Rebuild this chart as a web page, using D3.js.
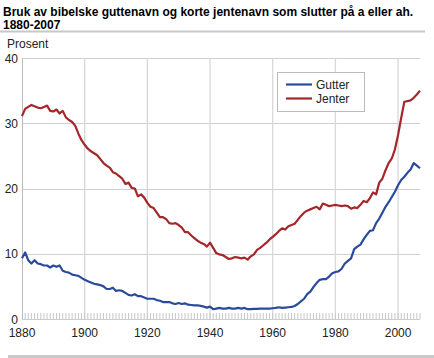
<!DOCTYPE html>
<html><head><meta charset="utf-8">
<script src="https://cdn.jsdelivr.net/npm/d3@7"></script>
<style>
body{margin:0;background:#fff;}
svg{display:block;font-family:"Liberation Sans",Arial,sans-serif;}
</style></head>
<body>
<script>
const startYear = 1880;
const endYear = 2007;
const jenter = [31.1,32.2,32.5,32.8,32.6,32.4,32.3,32.5,32.7,31.9,
31.8,32.1,31.5,31.9,30.9,30.5,30.2,29.6,28.4,27.4,
26.7,26.1,25.7,25.4,25.1,24.5,23.9,23.5,23.2,22.5,
22.3,21.9,21.5,20.7,20.9,20.1,20.0,18.8,19.1,18.6,
17.8,17.2,17.0,16.3,15.6,15.6,15.3,14.7,14.6,14.7,
14.4,14.0,13.3,13.3,12.8,12.4,12.0,11.7,11.5,11.1,
11.7,10.9,10.1,9.9,9.8,9.5,9.2,9.3,9.5,9.4,
9.3,9.4,9.1,9.6,9.9,10.6,10.9,11.3,11.7,12.2,
12.6,13.0,13.5,13.9,13.7,14.2,14.4,14.6,15.2,15.8,
16.3,16.6,16.8,17.0,17.2,16.8,17.7,17.5,17.3,17.4,
17.5,17.4,17.3,17.4,17.3,16.9,17.1,17.0,17.5,18.1,
17.9,18.5,19.4,19.1,20.9,21.5,22.8,23.9,24.6,26.0,
28.2,30.8,33.3,33.4,33.5,33.9,34.4,35.0];
const gutter = [9.3,10.2,9.0,8.5,9.0,8.5,8.4,8.2,8.2,7.9,
8.2,8.0,8.2,7.4,7.2,7.1,6.8,6.7,6.6,6.3,
6.0,5.8,5.6,5.4,5.3,5.2,5.0,4.6,4.6,4.8,
4.3,4.4,4.3,4.0,3.7,3.6,3.8,3.5,3.5,3.3,
3.1,3.1,3.1,2.9,2.8,2.6,2.6,2.6,2.4,2.3,
2.45,2.3,2.4,2.2,2.15,2.1,2.1,2.0,1.9,1.75,
1.9,1.5,1.6,1.7,1.6,1.6,1.7,1.6,1.6,1.7,
1.6,1.7,1.5,1.5,1.55,1.55,1.6,1.6,1.6,1.6,
1.65,1.7,1.8,1.7,1.75,1.8,1.85,2.0,2.3,2.7,
3.1,3.8,4.2,4.9,5.5,6.0,6.1,6.1,6.5,7.0,
7.2,7.3,7.7,8.5,8.9,9.3,10.7,11.1,11.4,12.2,
12.9,13.5,13.6,14.7,15.4,16.3,17.2,17.9,18.7,19.5,
20.5,21.3,21.8,22.4,22.9,23.9,23.5,23.1];
const xTicks = [1880,1900,1920,1940,1960,1980,2000];
const yTicks = [0,10,20,30,40];
const seriesNames = ["Gutter","Jenter"];
const seriesColors = ["#2a4b9b","#a4272b"];
const titleLines = ["Bruk av bibelske guttenavn og korte jentenavn som slutter på a eller ah.","1880-2007"];
const yLabel = "Prosent";

const W = 434, H = 358;
const svg = d3.select("body").append("svg").attr("width", W).attr("height", H);

const x = d3.scaleLinear().domain([startYear, endYear]).range([22, 420]);
const y = d3.scaleLinear().domain([0, 40]).range([319, 58]);
const years = d3.range(startYear, endYear + 1);

// title
svg.selectAll("text.title").data(titleLines).join("text")
  .attr("x", 3).attr("y", (d,i) => 16 + i*13)
  .attr("font-size", 12).attr("font-weight", "bold").attr("fill", "#000")
  .text(d => d);
svg.append("line").attr("x1", 0).attr("x2", 425).attr("y1", 31.5).attr("y2", 31.5)
  .attr("stroke", "#c8c8c8").attr("stroke-width", 2);
svg.append("line").attr("x1", 8).attr("x2", 434).attr("y1", 356.5).attr("y2", 356.5)
  .attr("stroke", "#c8c8c8").attr("stroke-width", 3);

svg.append("text").attr("x", 7).attr("y", 48).attr("font-size", 12).attr("fill", "#222").text(yLabel);

// grid
const g = svg.append("g");
g.selectAll("line.hg").data(yTicks.filter(d => d > 0)).join("line")
  .attr("x1", 22).attr("x2", 420).attr("y1", d => Math.round(y(d)) + 0.5).attr("y2", d => Math.round(y(d)) + 0.5)
  .attr("stroke", "#d0d0d0").attr("stroke-width", 1);
g.selectAll("line.vg").data(xTicks.filter(d => d > startYear)).join("line")
  .attr("x1", d => x(d)).attr("x2", d => x(d)).attr("y1", 58).attr("y2", 319)
  .attr("stroke", "#d8d8d8").attr("stroke-width", 1.3);

// minor year ticks
g.selectAll("line.mt").data(years.filter(d => d > startYear)).join("line")
  .attr("x1", d => x(d)).attr("x2", d => x(d)).attr("y1", 313).attr("y2", 319)
  .attr("stroke", "#c8c8c8").attr("stroke-width", 1);
// axes lines
svg.append("line").attr("x1", 22.5).attr("x2", 22.5).attr("y1", 58).attr("y2", 320).attr("stroke", "#bbb").attr("stroke-width", 1);
svg.append("line").attr("x1", 22).attr("x2", 420).attr("y1", 319.5).attr("y2", 319.5).attr("stroke", "#ccc").attr("stroke-width", 1);

// tick labels
svg.selectAll("text.yt").data(yTicks).join("text")
  .attr("x", 18).attr("y", d => y(d) + 4.5).attr("text-anchor", "end")
  .attr("font-size", 12).attr("fill", "#222").text(d => d);
svg.selectAll("text.xt").data(xTicks).join("text")
  .attr("x", d => x(d)).attr("y", 337).attr("text-anchor", "middle")
  .attr("font-size", 12).attr("fill", "#222").text(d => d);

// lines
const line = d3.line().x((d,i) => x(years[i])).y(d => y(d));
[gutter, jenter].forEach((s, i) => {
  svg.append("path").datum(s).attr("d", line).attr("fill", "none")
    .attr("stroke", seriesColors[i]).attr("stroke-width", 2.2).attr("stroke-linejoin", "round");
});

// legend
const lg = svg.append("g");
lg.append("rect").attr("x", 277.5).attr("y", 72.5).attr("width", 87).attr("height", 39)
  .attr("fill", "#fff").attr("stroke", "#bbb").attr("stroke-width", 1);
seriesNames.forEach((n, i) => {
  const yy = 84.5 + i*14;
  lg.append("line").attr("x1", 286).attr("x2", 312).attr("y1", yy).attr("y2", yy)
    .attr("stroke", seriesColors[i]).attr("stroke-width", 2.2);
  lg.append("text").attr("x", 316).attr("y", yy + 4.5).attr("font-size", 12).attr("fill", "#222").text(n);
});
</script>
</body></html>
